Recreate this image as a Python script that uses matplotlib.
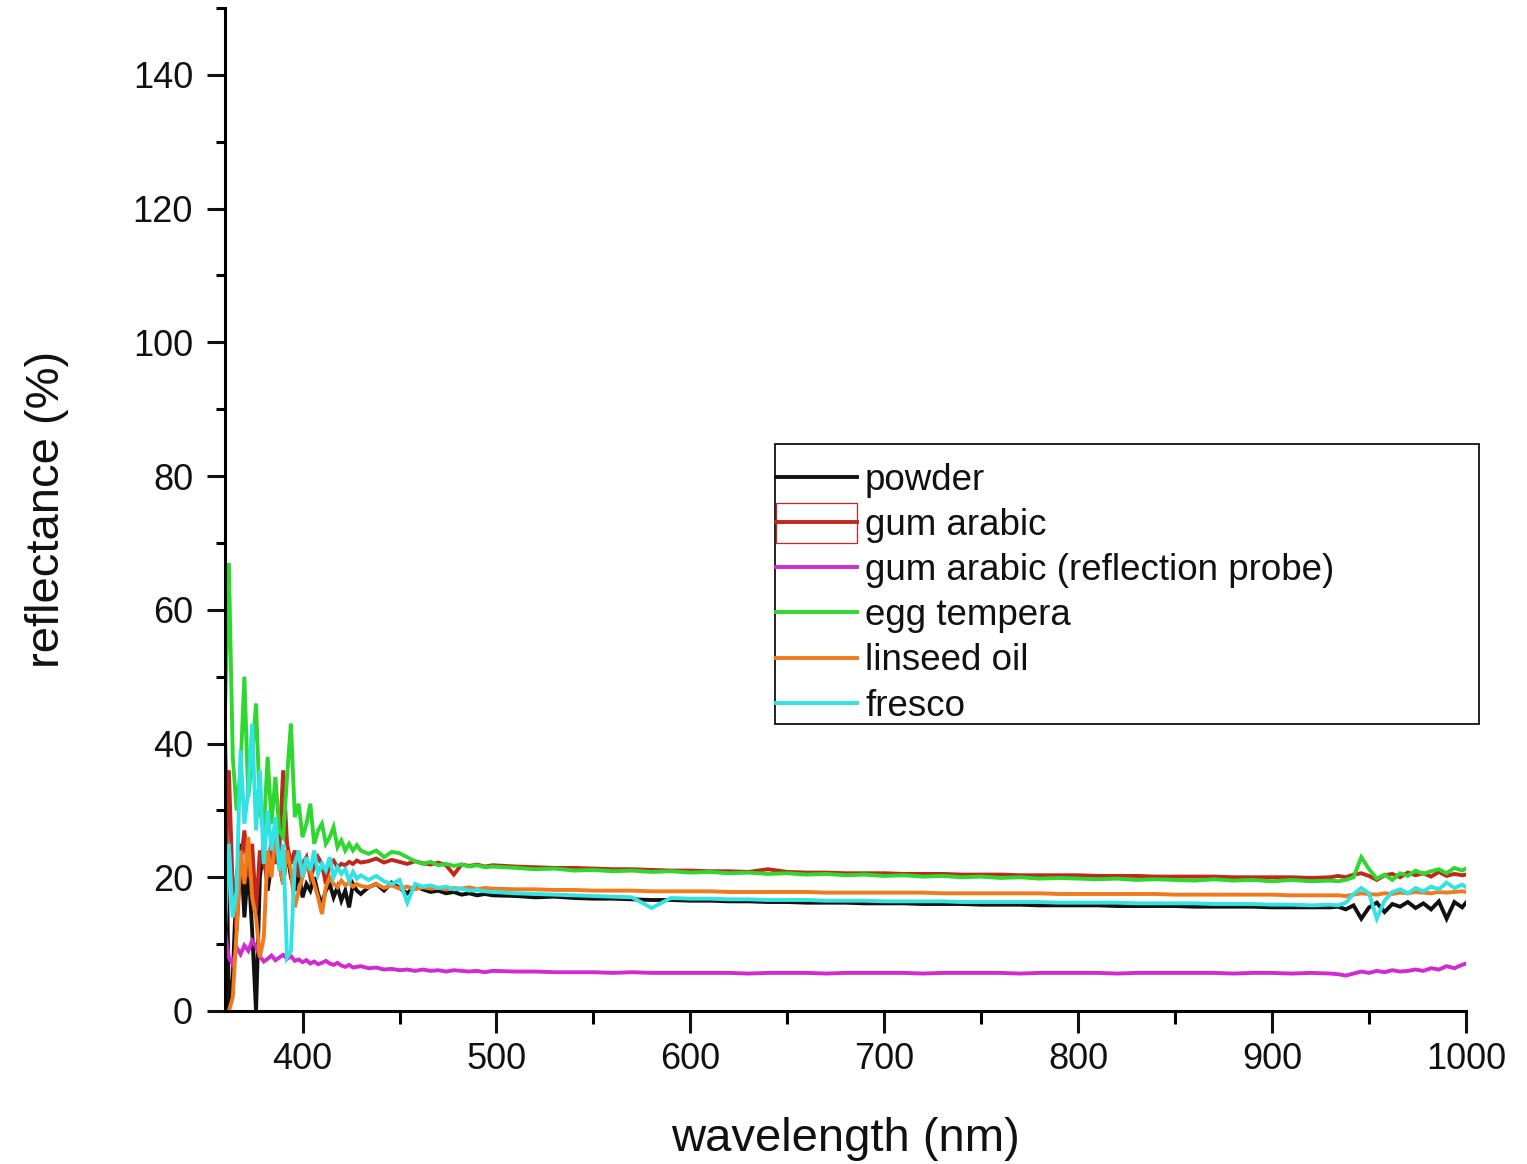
import matplotlib
matplotlib.use("Agg")
import matplotlib.pyplot as plt
from matplotlib.patches import Rectangle
from matplotlib.ticker import MultipleLocator
import numpy as np

plt.rcParams['font.family'] = ['Liberation Sans', 'DejaVu Sans']

# wavelength grid (nm)
wl_a = [360, 362, 364, 366, 368, 370, 372, 374, 376, 378, 380, 382, 384, 386, 388, 390, 392, 394,
        396, 398, 400, 402, 404, 406, 408, 410, 412, 414, 416, 418, 420, 422, 424, 426, 428, 430]
wl_b = [434, 438, 442, 446, 450, 454, 458, 462, 466, 470, 474, 478, 482, 486, 490, 494, 498]
wl_c = [510, 520, 530, 540, 550, 560, 570, 580, 590, 600, 610, 620, 630, 640, 650, 660, 670, 680,
        690, 700, 710, 720, 730, 740, 750, 760, 770, 780, 790, 800, 810, 820, 830, 840, 850, 860,
        870, 880, 890, 900, 910, 920, 930]
wl_d = [934, 938, 942, 946, 950, 954, 958, 962, 966, 970, 974, 978, 982, 986, 990, 994, 998, 1000]
wavelength = wl_a + wl_b + wl_c + wl_d

labels = ["powder", "gum arabic", "gum arabic (reflection probe)", "egg tempera", "linseed oil", "fresco"]
colors = ["#111111", "#c0281c", "#d12ad1", "#2ed82e", "#f07a1c", "#33e3e3"]

powder = ([42, 0, 5, 20, 25, 14, 22, 12, 0, 20, 25, 18, 22, 27, 22, 19, 24, 20, 18, 21, 17, 19, 18, 20,
           17.5, 16, 18, 19, 17, 18.5, 16.5, 18, 15.5, 19, 18, 17.5]
          + [18.5, 19, 18, 19.2, 18.4, 17.6, 18.6, 18.2, 17.8, 18.0, 17.6, 17.8, 17.4, 17.6, 17.3, 17.5, 17.3]
          + [17.2, 17.0, 17.1, 16.9, 16.8, 16.8, 16.7, 16.6, 16.6, 16.5,
             16.5, 16.4, 16.4, 16.3, 16.3, 16.2, 16.2, 16.2, 16.1, 16.1,
             16.1, 16.0, 16.0, 16.0, 15.9, 15.9, 15.9, 15.8, 15.8, 15.8,
             15.8, 15.7, 15.7, 15.7, 15.7, 15.6, 15.6, 15.6, 15.6, 15.5,
             15.5, 15.5, 15.5]
          + [15.6, 15.2, 15.8, 13.8, 15.5, 16.2, 14.8, 16.0, 15.6, 16.3, 15.4, 16.1, 15.2, 16.4, 13.8, 16.3,
             15.5, 16.2])

gum_arabic = ([20, 36, 18, 12, 22, 27, 20, 25, 15, 24, 22, 20, 26, 22, 24, 36, 25, 22, 24, 20, 22, 23, 20,
               21.5, 23, 22, 19, 22, 22.5, 21.5, 22, 21.8, 22.3, 22, 22.5, 22.2]
              + [22.4, 22.8, 22.2, 22.6, 22.3, 22.0, 22.4, 22.1, 21.9, 22.2, 21.8, 20.4, 21.9, 21.7, 21.9, 21.6,
                 21.8]
              + [21.6, 21.5, 21.4, 21.4, 21.3, 21.2, 21.2, 21.1, 21.0, 21.0,
                 20.9, 20.9, 20.8, 21.2, 20.8, 20.7, 20.7, 20.6, 20.6, 20.6,
                 20.5, 20.5, 20.5, 20.4, 20.4, 20.4, 20.3, 20.3, 20.3, 20.3,
                 20.2, 20.2, 20.2, 20.1, 20.1, 20.1, 20.1, 20.0, 20.0, 20.0,
                 20.0, 19.9, 20.0]
              + [20.2, 20.0, 20.4, 20.6, 20.2, 19.6, 20.3, 20.5, 20.0, 20.7, 20.3, 20.6, 20.1, 20.8, 20.2, 20.5,
                 20.3, 20.4])

gum_arabic_probe = ([12, 8, 7, 9.5, 8.5, 9.8, 9.0, 10.5, 9.6, 8.2, 7.4, 7.8, 8.3, 7.6, 8.0, 8.4, 7.8, 8.2,
                     7.5, 7.7, 7.3, 7.6, 7.1, 7.4, 7.0, 7.2, 7.5, 7.1, 6.9, 7.2, 6.8, 6.6, 6.9, 6.5, 6.6, 6.7]
                    + [6.4, 6.5, 6.2, 6.3, 6.1, 6.2, 6.0, 6.2, 6.0, 6.1, 5.9, 6.1, 6.0, 5.9, 6.0, 5.8, 6.0]
                    + [5.9, 5.9, 5.8, 5.8, 5.8, 5.7, 5.8, 5.7, 5.7, 5.7,
                       5.7, 5.7, 5.6, 5.7, 5.7, 5.7, 5.6, 5.7, 5.7, 5.7,
                       5.7, 5.6, 5.7, 5.7, 5.7, 5.7, 5.6, 5.7, 5.7, 5.7,
                       5.7, 5.6, 5.7, 5.7, 5.7, 5.7, 5.7, 5.6, 5.7, 5.7,
                       5.6, 5.7, 5.6]
                    + [5.5, 5.3, 5.6, 5.9, 5.7, 6.0, 5.8, 6.1, 5.9, 6.0, 6.2, 6.0, 6.4, 6.2, 6.7, 6.4, 6.9, 7.1])

egg_tempera = ([45, 67, 38, 30, 36, 50, 32, 38, 46, 30, 27, 38, 28, 35, 27, 26, 35, 43, 29, 31, 26, 28, 31,
                25, 27, 28, 25, 26, 27.5, 24.5, 25.5, 24, 25, 24, 24.8, 24]
               + [23.5, 24, 23, 23.8, 23.6, 23, 22.4, 22.0, 22.3, 21.8, 22.0, 21.7, 21.9, 21.6, 21.8, 21.5, 21.6]
               + [21.4, 21.2, 21.3, 21.0, 21.1, 20.9, 21.0, 20.8, 20.9, 20.7,
                  20.8, 20.6, 20.7, 20.5, 20.6, 20.4, 20.5, 20.3, 20.4, 20.2,
                  20.3, 20.1, 20.2, 20.0, 20.1, 19.9, 20.0, 19.8, 19.9, 19.8,
                  19.7, 19.8, 19.6, 19.7, 19.6, 19.5, 19.7, 19.5, 19.6, 19.4,
                  19.6, 19.4, 19.5]
               + [19.4, 19.6, 20.0, 23.0, 21.2, 19.8, 20.4, 19.6, 20.6, 20.2, 21.0, 20.5, 20.9, 21.2, 20.6, 21.4,
                  21.0, 21.3])

linseed_oil = ([0, 0, 2, 12, 24, 19, 26, 17, 14, 8, 11, 24, 20, 27, 22, 19, 24, 21, 15.5, 18, 20, 22, 21,
                19, 17, 14.5, 18.5, 20, 19, 18.5, 19.5, 18.8, 19.2, 18.6, 19, 18.7]
               + [18.5, 19.0, 18.4, 18.8, 18.3, 18.6, 18.2, 18.5, 18.3, 18.4, 18.2, 18.4, 18.3, 18.5, 18.2, 18.4,
                  18.3]
               + [18.2, 18.2, 18.1, 18.1, 18.0, 18.0, 18.0, 17.9, 17.9, 17.9,
                  17.9, 17.8, 17.8, 17.8, 17.8, 17.8, 17.7, 17.7, 17.7, 17.7,
                  17.7, 17.7, 17.6, 17.6, 17.6, 17.6, 17.6, 17.6, 17.5, 17.5,
                  17.5, 17.5, 17.5, 17.5, 17.4, 17.4, 17.4, 17.4, 17.4, 17.4,
                  17.3, 17.3, 17.3]
               + [17.3, 17.2, 17.4, 17.6, 17.5, 17.4, 17.6, 17.5, 17.7, 17.6, 17.8, 17.7, 17.6, 17.8, 17.7, 17.8,
                  17.9, 17.8])

fresco = ([12, 25, 14, 18, 39, 28, 33, 43, 27, 36, 22, 30, 24, 29, 21, 25, 8, 9, 22, 24, 20, 23, 21, 24,
           20.5, 22, 21, 23, 20, 21.5, 20.5, 21.2, 19.5, 20.8, 19.8, 20.3]
          + [19.6, 20.2, 19.4, 19.0, 19.6, 16.2, 19.0, 18.6, 18.8, 18.4, 18.6, 18.2, 18.3, 18.0, 18.1, 17.9, 17.8]
          + [17.6, 17.5, 17.4, 17.3, 17.2, 17.1, 17.0, 15.4, 16.9, 16.8,
             16.8, 16.7, 16.7, 16.6, 16.6, 16.6, 16.5, 16.5, 16.5, 16.4,
             16.4, 16.4, 16.4, 16.3, 16.3, 16.3, 16.3, 16.3, 16.2, 16.2,
             16.2, 16.2, 16.1, 16.1, 16.1, 16.1, 16.0, 16.0, 16.0, 15.9,
             15.9, 15.8, 15.9]
          + [15.8, 16.2, 17.5, 18.4, 17.6, 13.8, 16.5, 17.8, 18.2, 17.6, 18.4, 17.9, 18.6, 18.2, 19.2, 18.4,
             18.9, 18.5])

series = [powder, gum_arabic, gum_arabic_probe, egg_tempera, linseed_oil, fresco]

W, H = 1527, 1164
fig = plt.figure(figsize=(W / 100, H / 100), dpi=100)
ax = fig.add_axes([225 / W, 1 - 1011 / H, (1466 - 225) / W, (1011 - 8) / H])

handles = []
for y, c, lab in zip(series, colors, labels):
    h, = ax.plot(wavelength, y, color=c, lw=2.8, label=lab, solid_joinstyle='miter')
    handles.append(h)

ax.set_xlim(360, 1000)
ax.set_ylim(0, 150)
ax.xaxis.set_major_locator(MultipleLocator(100))
ax.xaxis.set_minor_locator(MultipleLocator(50))
ax.yaxis.set_major_locator(MultipleLocator(20))
ax.yaxis.set_minor_locator(MultipleLocator(10))
for s in ['top', 'right']:
    ax.spines[s].set_visible(False)
for s in ['left', 'bottom']:
    ax.spines[s].set_linewidth(2.2)
ax.tick_params(axis='x', which='major', direction='out', length=16, width=2.2, pad=6,
               labelsize=26, colors='#111111')
ax.tick_params(axis='x', which='minor', direction='out', length=9, width=2.2)
ax.tick_params(axis='y', which='major', direction='out', length=13, width=2.2, pad=10,
               labelsize=26, colors='#111111')
ax.tick_params(axis='y', which='minor', direction='out', length=6.5, width=2.2)

ax.set_xlabel("wavelength (nm)", fontsize=34, color='#111111', labelpad=29)
ax.set_ylabel("reflectance (%)", fontsize=34, color='#111111', labelpad=46)

leg = fig.legend(handles, labels, loc='upper left', bbox_to_anchor=(776 / W, 1 - 463 / H),
                 frameon=False, fontsize=26.5, borderpad=0, borderaxespad=0,
                 handlelength=2.2, handletextpad=0.22, labelspacing=0.275)
for t in leg.get_texts():
    t.set_color('#111111')
for h in leg.legend_handles:
    h.set_linewidth(2.8)

fig.patches.append(Rectangle((775 / W, 1 - 724 / H), (1479 - 775) / W, (724 - 444) / H,
                             transform=fig.transFigure, fill=False, edgecolor='#111111', lw=1.3))
fig.patches.append(Rectangle((776 / W, 1 - 543 / H), (857 - 776) / W, (543 - 503) / H,
                             transform=fig.transFigure, fill=False, edgecolor='#d62020', lw=0.9))

fig.savefig("out.png", dpi=100, facecolor='white')
